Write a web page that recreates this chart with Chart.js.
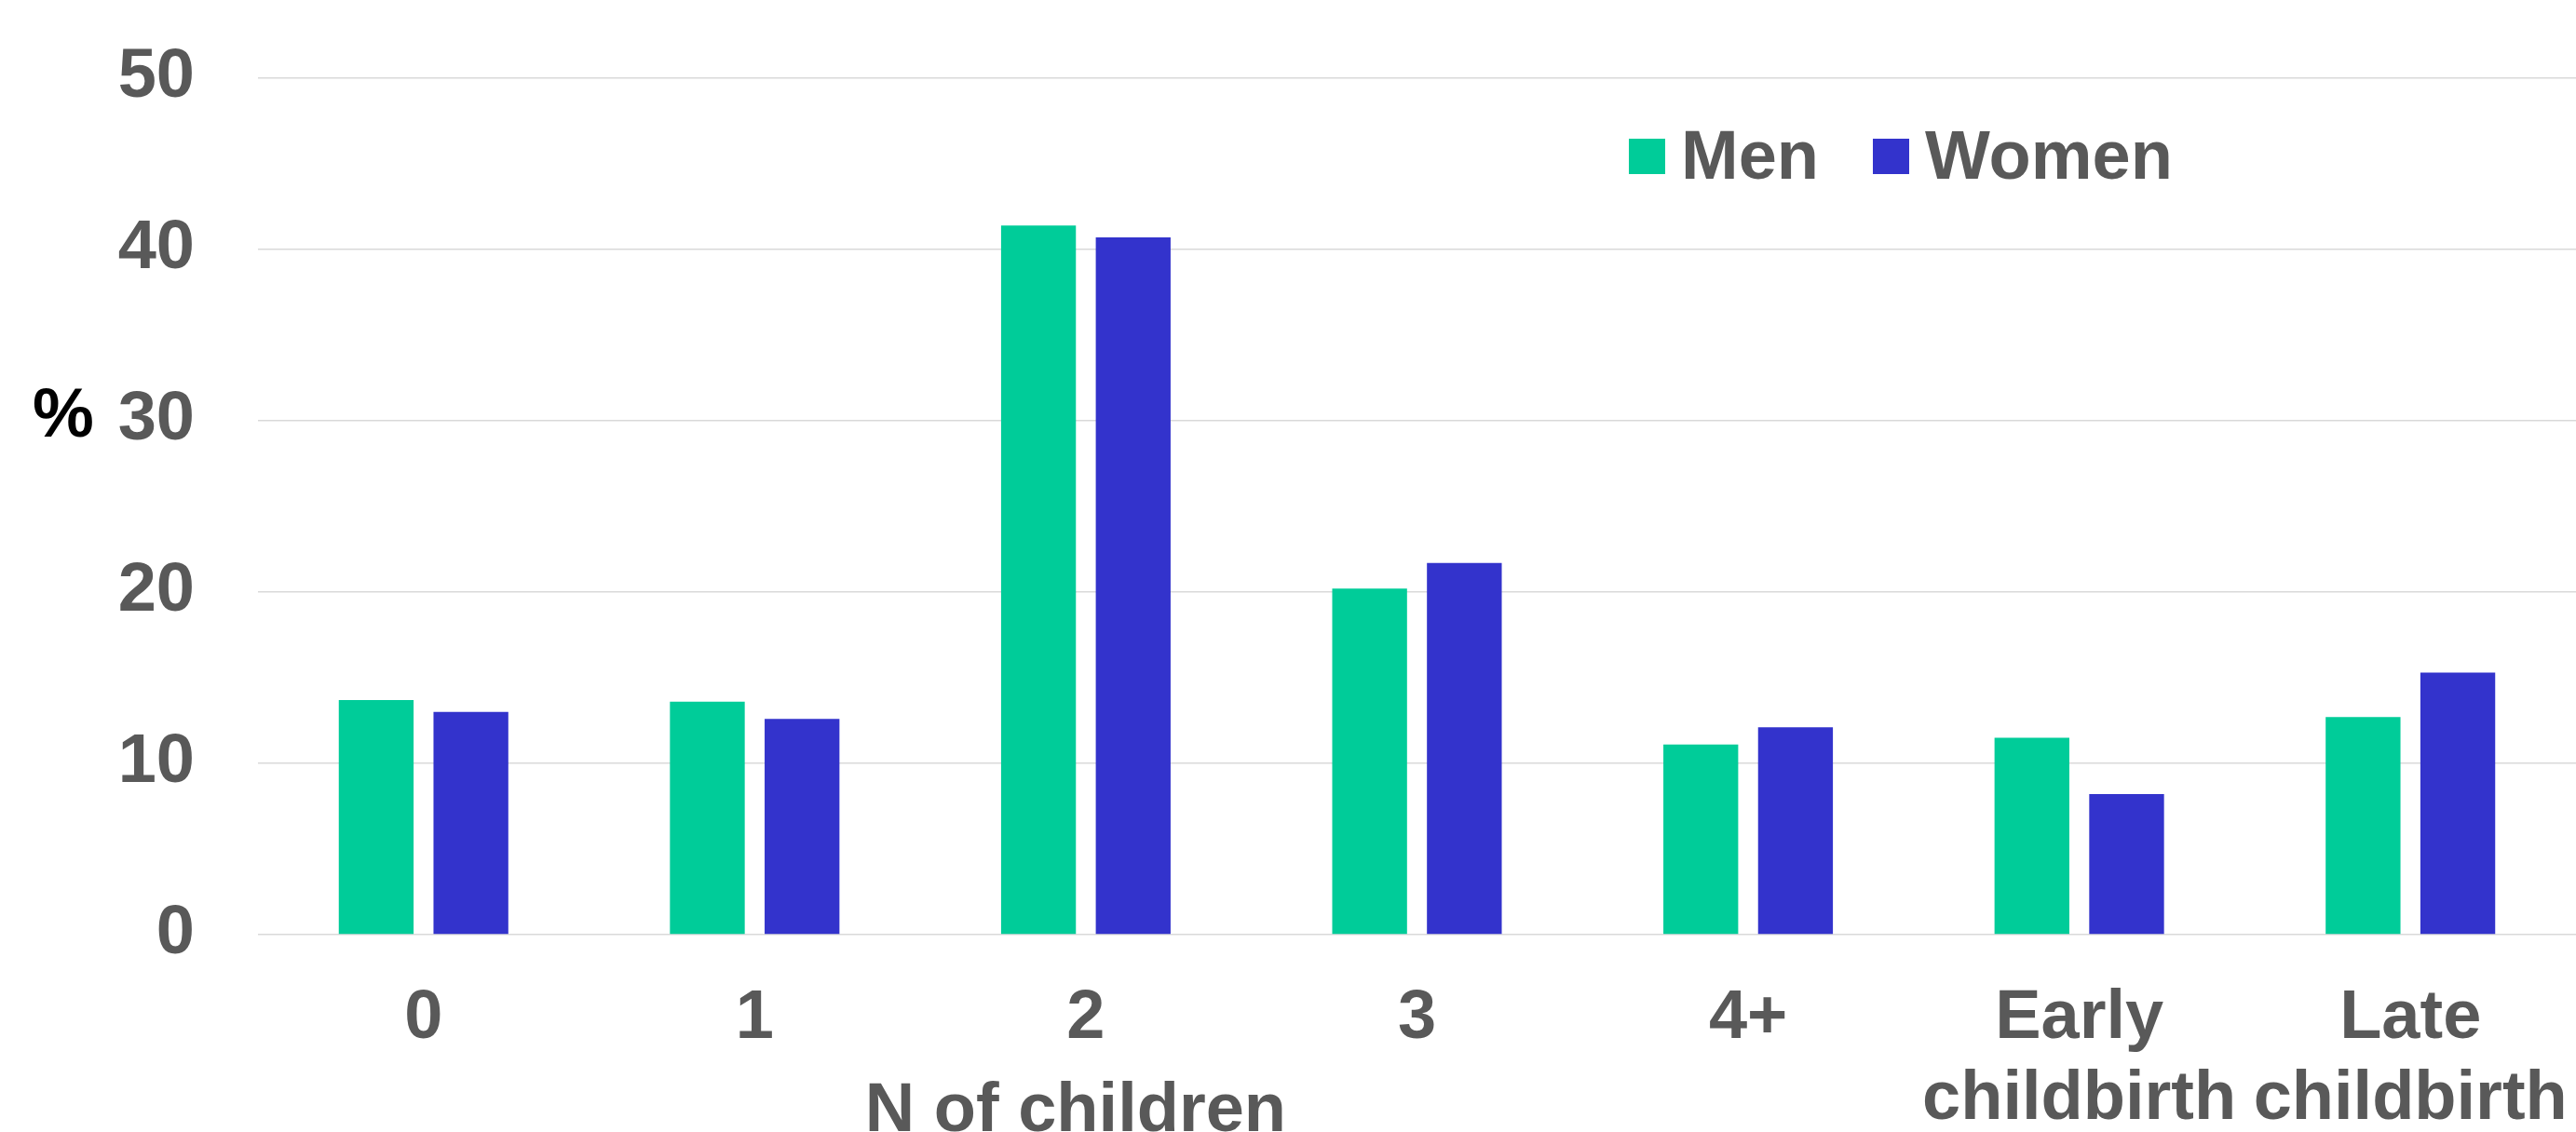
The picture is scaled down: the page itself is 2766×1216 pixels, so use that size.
<!DOCTYPE html>
<html>
<head>
<meta charset="utf-8">
<script src="https://cdn.jsdelivr.net/npm/chart.js@4/dist/chart.umd.min.js"></script>
<style>
  html, body { margin: 0; padding: 0; background: #ffffff; overflow: hidden; }
  #wrap { position: relative; width: 2766px; height: 1216px; }
</style>
</head>
<body>
<div id="wrap"><canvas id="chart"></canvas></div>
<script>
// Share of respondents (%) by number of children and timing of childbirth
const categories = ['0', '1', '2', '3', '4+', ['Early', 'childbirth'], ['Late', 'childbirth']];
const seriesNames = ['Men', 'Women'];
const menValues = [13.7, 13.6, 41.4, 20.2, 11.1, 11.5, 12.7];
const womenValues = [13.0, 12.6, 40.7, 21.7, 12.1, 8.2, 15.3];
const yTicks = [0, 10, 20, 30, 40, 50];
const yUnit = '%';
const groupTitle = 'N of children';
const groupFirst = 0;   // first category under the group title
const groupLast = 4;    // last category under the group title

const FONT = "'Liberation Sans', Arial, sans-serif";
const TEXT_GREY = '#595959';
const COLORS = ['#00CC99', '#3333CC'];

// Legend drawn inside the plot, top right
const inPlotLegend = {
  id: 'inPlotLegend',
  afterDraw(chart) {
    const ctx = chart.ctx;
    ctx.save();
    ctx.font = 'bold 74px ' + FONT;
    ctx.textAlign = 'left';
    ctx.textBaseline = 'alphabetic';
    let x = 1749;
    chart.data.datasets.forEach(ds => {
      ctx.fillStyle = ds.backgroundColor;
      ctx.fillRect(x, 149, 39, 38);
      ctx.fillStyle = TEXT_GREY;
      ctx.fillText(ds.label, x + 56, 192);
      x += 56 + ctx.measureText(ds.label).width + 58;
    });
    ctx.restore();
  }
};

// Unit label left of the y axis and the group title under the first categories
const axisTexts = {
  id: 'axisTexts',
  afterDraw(chart) {
    const ctx = chart.ctx;
    const xs = chart.scales.x, ys = chart.scales.y;
    ctx.save();
    ctx.font = 'bold 74px ' + FONT;
    ctx.textBaseline = 'alphabetic';
    ctx.textAlign = 'center';
    ctx.fillStyle = '#000000';
    ctx.fillText(yUnit, 68, ys.getPixelForValue(30) + 17);
    ctx.fillStyle = TEXT_GREY;
    const cx = (xs.getPixelForValue(groupFirst) + xs.getPixelForValue(groupLast)) / 2 - 11;
    ctx.fillText(groupTitle, cx, chart.chartArea.bottom + 211);
    ctx.restore();
  }
};

new Chart(document.getElementById('chart'), {
  type: 'bar',
  data: {
    labels: categories,
    datasets: [
      { label: seriesNames[0], data: menValues, backgroundColor: COLORS[0] },
      { label: seriesNames[1], data: womenValues, backgroundColor: COLORS[1] }
    ]
  },
  options: {
    responsive: true,
    maintainAspectRatio: false,
    animation: false,
    devicePixelRatio: 1,
    datasets: { bar: { categoryPercentage: 0.572, barPercentage: 0.79 } },
    layout: { padding: { top: 84, right: 0, bottom: 0, left: 0 } },
    plugins: { legend: { display: false }, tooltip: { enabled: false } },
    scales: {
      x: {
        grid: { display: false, drawTicks: false },
        border: { display: false },
        ticks: {
          autoSkip: false, maxRotation: 0, minRotation: 0, padding: 47,
          color: TEXT_GREY,
          font: { family: FONT, size: 74, weight: 'bold', lineHeight: 1.176 }
        },
        afterFit(scale) {
          scale.height = 212;
          scale.paddingLeft = 0;
          scale.paddingRight = 0;
        }
      },
      y: {
        min: 0, max: 50,
        afterBuildTicks(scale) { scale.ticks = yTicks.map(v => ({ value: v })); },
        grid: { color: '#d9d9d9', lineWidth: 1.5, drawTicks: false },
        border: { display: false },
        ticks: {
          padding: 68, color: TEXT_GREY,
          font: { family: FONT, size: 74, weight: 'bold' }
        },
        afterFit(scale) {
          scale.width = 277;
          scale.paddingTop = 0;
          scale.paddingBottom = 0;
        }
      }
    }
  },
  plugins: [inPlotLegend, axisTexts]
});
</script>
</body>
</html>
